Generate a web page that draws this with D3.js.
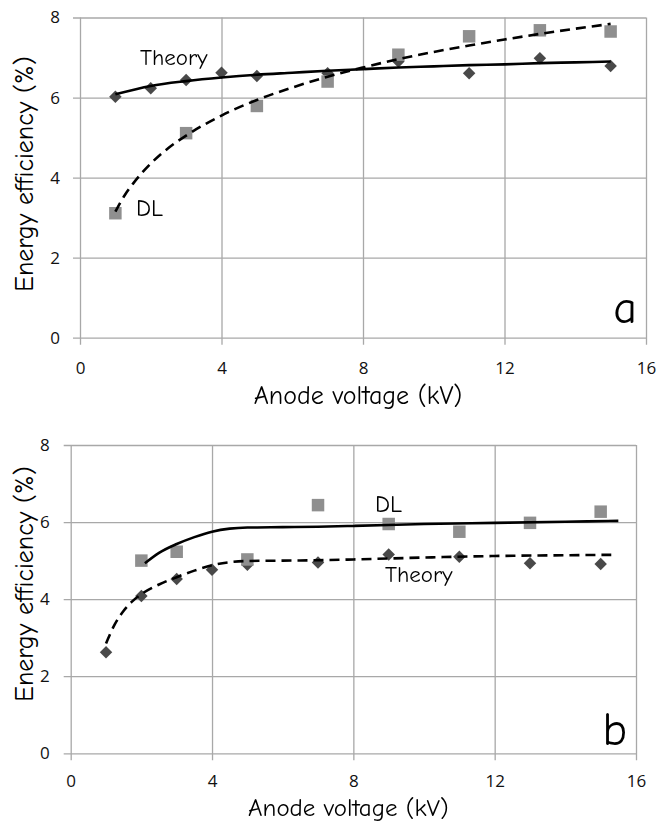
<!DOCTYPE html>
<html>
<head>
<meta charset="utf-8">
<script src="https://cdn.jsdelivr.net/npm/d3@7"></script>
<style>
  html, body { margin: 0; padding: 0; background: #fff; }
  svg { display: block; }
</style>
</head>
<body>
<svg id="chart" width="659" height="821"></svg>
<script>
// ---------- data ----------
// Panel a
const theoryVoltsA = [1, 2, 3, 4, 5, 7, 9, 11, 13, 15];
const theoryA      = [6.02, 6.23, 6.44, 6.62, 6.54, 6.61, 6.90, 6.61, 6.98, 6.79];
const dlVoltsA     = [1, 3, 5, 7, 9, 11, 13, 15];
const dlA          = [3.11, 5.11, 5.79, 6.40, 7.07, 7.53, 7.68, 7.65];
// trend curves (panel a)
const theoryFitXA  = [1, 2, 3, 4, 5, 6, 7, 8, 9, 10, 11, 12, 13, 14, 15];
const theoryFitA   = [6.08, 6.29, 6.41, 6.50, 6.57, 6.62, 6.67, 6.71, 6.75, 6.78, 6.81, 6.83, 6.86, 6.88, 6.90];
const dlFitXA      = [1, 1.25, 1.5, 2, 2.5, 3, 4, 5, 6, 7, 8, 9, 10, 11, 12, 13, 14, 15];
const dlFitA       = [3.15, 3.54, 3.85, 4.35, 4.74, 5.05, 5.55, 5.94, 6.25, 6.52, 6.75, 6.96, 7.14, 7.30, 7.45, 7.59, 7.72, 7.84];

// Panel b
const theoryVoltsB = [1, 2, 3, 4, 5, 7, 9, 11, 13, 15];
const theoryB      = [2.62, 4.08, 4.52, 4.76, 4.89, 4.95, 5.16, 5.10, 4.93, 4.91];
const dlVoltsB     = [2, 3, 5, 7, 9, 11, 13, 15];
const dlB          = [5.00, 5.23, 5.03, 6.44, 5.95, 5.75, 5.98, 6.27];
// trend curves (panel b)
const dlFitXB      = [2.1, 2.5, 3, 3.5, 4, 4.5, 5, 6, 7, 8, 10, 12, 14, 15.5];
const dlFitB       = [4.93, 5.20, 5.43, 5.61, 5.75, 5.83, 5.86, 5.87, 5.88, 5.90, 5.95, 5.98, 6.01, 6.03];
const theoryFitXB  = [1, 1.25, 1.5, 1.75, 2, 2.5, 3, 3.5, 4, 4.5, 5, 6, 7, 8, 10, 12, 14, 15.3];
const theoryFitB   = [2.85, 3.35, 3.70, 3.95, 4.13, 4.38, 4.57, 4.74, 4.88, 4.96, 4.99, 5.00, 5.01, 5.03, 5.08, 5.12, 5.14, 5.15];

// axes
const xTicks = [0, 4, 8, 12, 16];
const yTicks = [0, 2, 4, 6, 8];
const xTitle = "Anode voltage (kV)";
const yTitle = "Energy efficiency (%)";

// ---------- styling ----------
const handFont = "'Comic Sans MS','Comic Neue','DejaVu Sans',sans-serif";
const tickFont = "'Open Sans','Noto Sans',sans-serif";
const gridColor = "#a8a8a8";
const diamondColor = "#4a4a4a";
const squareColor = "#8f8f8f";

const svg = d3.select("#chart");

const defs = svg.append("defs");
defs.append("filter").attr("id", "soft")
  .attr("x", "-50%").attr("y", "-50%").attr("width", "200%").attr("height", "200%")
  .append("feGaussianBlur").attr("stdDeviation", 0.7);

function panel(cfg) {
  const x = d3.scaleLinear().domain([0, 16]).range([cfg.left, cfg.right]);
  const y = d3.scaleLinear().domain([0, 8]).range([cfg.bottom, cfg.top]);
  const g = svg.append("g");
  const tick = 7;

  const xa = g.append("g")
    .attr("transform", `translate(0,${cfg.bottom + tick})`)
    .call(d3.axisBottom(x).tickValues(xTicks).tickSize(-(cfg.bottom - cfg.top + tick)).tickPadding(cfg.xPad).tickFormat(d3.format("d")));
  const ya = g.append("g")
    .attr("transform", `translate(${cfg.left - tick},0)`)
    .call(d3.axisLeft(y).tickValues(yTicks).tickSize(-(cfg.right - cfg.left + tick)).tickPadding(cfg.yPad).tickFormat(d3.format("d")));
  [xa, ya].forEach(a => {
    a.select(".domain").remove();
    a.selectAll(".tick line").attr("stroke", gridColor).attr("stroke-width", 1.3);
    a.selectAll(".tick text").attr("fill", "#111").style("font-family", tickFont).style("font-size", "17px");
  });

  const diamond = d3.symbol().type(d3.symbolSquare).size(78);
  const square = d3.symbol().type(d3.symbolSquare).size(156);
  const mk = g.append("g").attr("filter", "url(#soft)");
  mk.selectAll("path.dia").data(cfg.theoryX.map((v, i) => [v, cfg.theory[i]]))
    .join("path").attr("class", "dia")
    .attr("d", diamond)
    .attr("transform", d => `translate(${x(d[0])},${y(d[1])}) rotate(45)`)
    .attr("fill", diamondColor);
  mk.selectAll("path.sq").data(cfg.dlX.map((v, i) => [v, cfg.dl[i]]))
    .join("path").attr("class", "sq")
    .attr("d", square)
    .attr("transform", d => `translate(${x(d[0])},${y(d[1])})`)
    .attr("fill", squareColor);

  const line = d3.line().x(d => x(d[0])).y(d => y(d[1])).curve(d3.curveMonotoneX);
  cfg.curves.forEach(c => {
    g.append("path")
      .datum(c.xs.map((v, i) => [v, c.ys[i]]))
      .attr("d", line)
      .attr("fill", "none")
      .attr("stroke", "#000")
      .attr("stroke-width", 2.6)
      .attr("stroke-dasharray", c.dashed ? "10,6" : null);
  });

  cfg.labels.forEach(l => {
    g.append("text").attr("x", l.x).attr("y", l.y)
      .attr("text-anchor", l.anchor || "start")
      .style("font-family", handFont).style("font-size", l.size + "px")
      .attr("fill", "#000").text(l.text);
  });

  g.append("text").attr("x", (cfg.left + cfg.right) / 2 - 5).attr("y", cfg.xTitleY)
    .attr("text-anchor", "middle").style("font-family", handFont).style("font-size", cfg.xTitleSize + "px")
    .text(xTitle);
  g.append("text").attr("transform", `translate(33,${cfg.yTitleY}) rotate(-90)`)
    .attr("text-anchor", "middle").style("font-family", handFont).style("font-size", "26px")
    .text(yTitle);
}

panel({
  left: 80, right: 646, top: 17.5, bottom: 337.7,
  xPad: 17, yPad: 13, xTitleY: 404, xTitleSize: 26, yTitleY: 174,
  theoryX: theoryVoltsA, theory: theoryA, dlX: dlVoltsA, dl: dlA,
  curves: [
    { xs: theoryFitXA, ys: theoryFitA, dashed: false },
    { xs: dlFitXA, ys: dlFitA, dashed: true }
  ],
  labels: [
    { text: "Theory", x: 140, y: 65, size: 23 },
    { text: "DL", x: 136, y: 216, size: 24 },
    { text: "a", x: 637, y: 323, size: 46, anchor: "end" }
  ]
});

panel({
  left: 70.7, right: 636, top: 445, bottom: 753.3,
  xPad: 15, yPad: 14, xTitleY: 816, xTitleSize: 25, yTitleY: 584,
  theoryX: theoryVoltsB, theory: theoryB, dlX: dlVoltsB, dl: dlB,
  curves: [
    { xs: dlFitXB, ys: dlFitB, dashed: false },
    { xs: theoryFitXB, ys: theoryFitB, dashed: true }
  ],
  labels: [
    { text: "DL", x: 375, y: 512, size: 24 },
    { text: "Theory", x: 385, y: 582, size: 23 },
    { text: "b", x: 627, y: 745, size: 46, anchor: "end" }
  ]
});
</script>
</body>
</html>
